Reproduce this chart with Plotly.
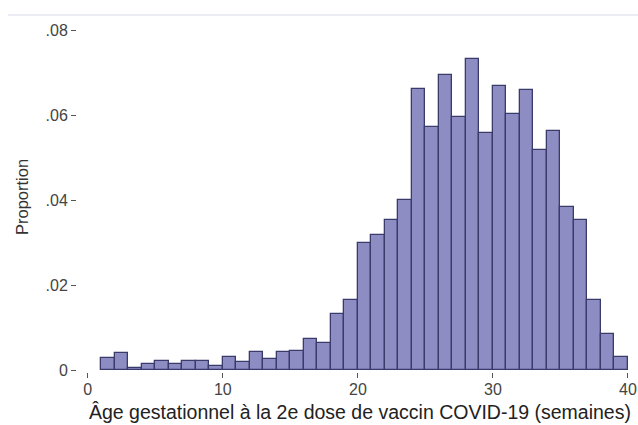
import plotly.graph_objects as go

# Bin left edges (gestational week) and proportion per bin
bin_start = list(range(1, 40))
proportion = [
    0.0028, 0.0041, 0.0005, 0.0013, 0.0021, 0.0013, 0.0022, 0.0021, 0.0010, 0.0031,
    0.0018, 0.0042, 0.0025, 0.0042, 0.0044, 0.0072, 0.0063, 0.0133, 0.0165, 0.0300,
    0.0318, 0.0353, 0.0400, 0.0661, 0.0573, 0.0694, 0.0596, 0.0732, 0.0559, 0.0669,
    0.0602, 0.0660, 0.0519, 0.0563, 0.0384, 0.0353, 0.0165, 0.0084, 0.0030,
]

x_tickvals = [0, 10, 20, 30, 40]
x_ticktext = ["0", "10", "20", "30", "40"]
y_tickvals = [0, 0.02, 0.04, 0.06, 0.08]
y_ticktext = ["0", ".02", ".04", ".06", ".08"]

x_title = "Âge gestationnel à la 2e dose de vaccin COVID-19 (semaines)"
y_title = "Proportion"

FONT = "Liberation Sans, Arial, Helvetica, sans-serif"

fig = go.Figure(
    go.Bar(
        x=bin_start,
        y=proportion,
        width=1,
        offset=0,
        marker=dict(color="#8d8dc3", line=dict(color="#3b3b6b", width=1.3)),
        hoverinfo="x+y",
    )
)

fig.update_layout(
    width=638,
    height=425,
    margin=dict(l=77, r=6, t=28, b=53, autoexpand=False),
    paper_bgcolor="white",
    plot_bgcolor="white",
    showlegend=False,
    bargap=0,
    font=dict(family=FONT, color="#444"),
    xaxis=dict(
        range=[-0.8, 40.3],
        tickvals=x_tickvals,
        ticktext=x_ticktext,
        ticks="outside",
        ticklen=5,
        tickwidth=1,
        tickcolor="#555",
        ticklabelstandoff=-2,
        showgrid=False,
        zeroline=False,
        showline=False,
        tickfont=dict(size=16, color="#444"),
        automargin=False,
    ),
    yaxis=dict(
        range=[-0.00047, 0.0805],
        tickvals=y_tickvals,
        ticktext=y_ticktext,
        ticks="outside",
        ticklen=5,
        tickwidth=1,
        tickcolor="#555",
        showgrid=False,
        zeroline=False,
        showline=False,
        tickfont=dict(size=16, color="#444"),
        automargin=False,
    ),
    annotations=[
        dict(
            text=x_title, xref="paper", yref="paper",
            x=(360 - 77) / 555, y=(372 - 412) / 344,
            xanchor="center", yanchor="middle", showarrow=False,
            font=dict(family=FONT, size=19.5, color="#222"),
        ),
        dict(
            text=y_title, xref="paper", yref="paper",
            x=(22 - 77) / 555, y=(372 - 197) / 344,
            xanchor="center", yanchor="middle", showarrow=False, textangle=-90,
            font=dict(family=FONT, size=16.5, color="#333"),
        ),
    ],
    shapes=[
        dict(
            type="line", xref="paper", yref="paper",
            x0=(8 - 77) / 555, x1=(638 - 77) / 555,
            y0=(372 - 15) / 344, y1=(372 - 15) / 344,
            line=dict(color="#ececf4", width=2),
        )
    ],
)

fig.write_html(
    "out.html",
    config={"displayModeBar": False},
    post_script="document.body.style.margin='0';document.body.style.padding='0';",
)
